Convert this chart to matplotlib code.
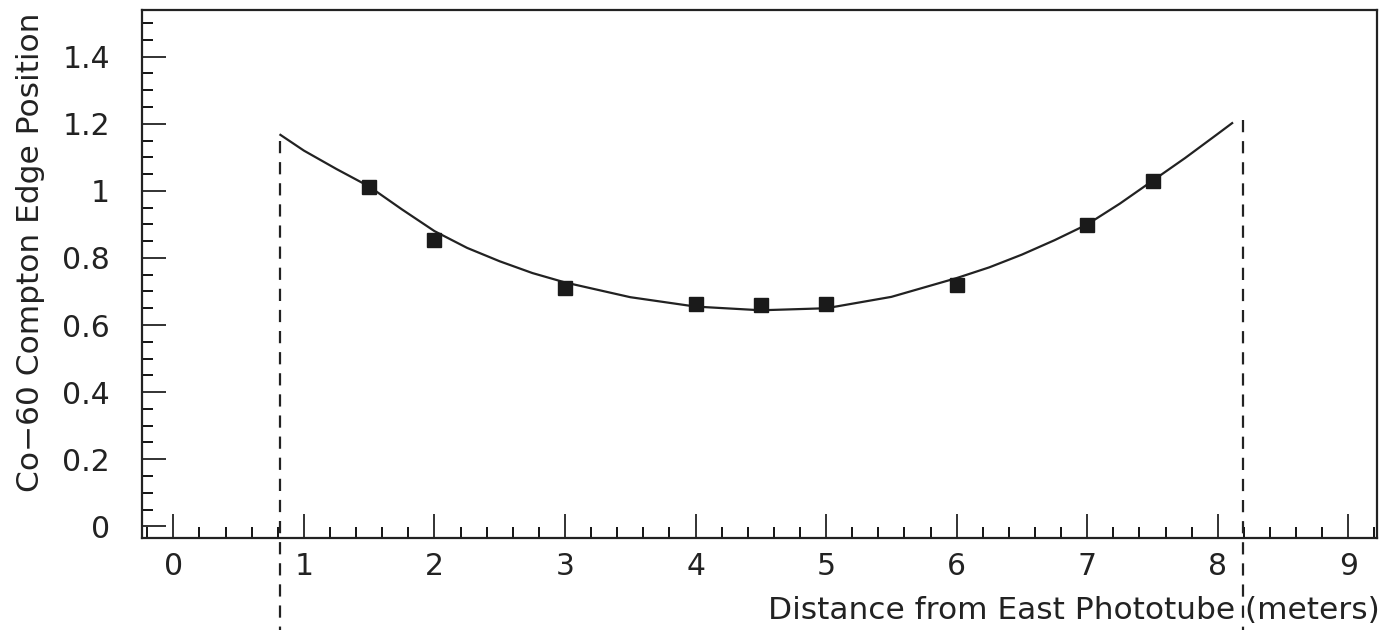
import numpy as np
import matplotlib
matplotlib.use("Agg")
import matplotlib.pyplot as plt
from matplotlib.ticker import MultipleLocator

# measured points
dist = [1.5, 2.0, 3.0, 4.0, 4.5, 5.0, 6.0, 7.0, 7.5]
edge = [1.013, 0.853, 0.709, 0.662, 0.659, 0.664, 0.72, 0.898, 1.028]

# fitted curve
fit_x = [0.82, 1.0, 1.25, 1.5, 1.75, 2.0, 2.25, 2.5, 2.75, 3.0, 3.5, 4.0, 4.5,
         5.0, 5.5, 6.0, 6.25, 6.5, 6.75, 7.0, 7.25, 7.5, 7.75, 8.0, 8.11]
fit_y = [1.167, 1.12, 1.065, 1.013, 0.945, 0.88, 0.83, 0.79, 0.755, 0.727, 0.683,
         0.655, 0.644, 0.65, 0.684, 0.74, 0.772, 0.81, 0.853, 0.90, 0.962, 1.03,
         1.098, 1.17, 1.202]

# dashed markers for the scintillator ends
end_x = [0.82, 8.19]
end_top = [1.15, 1.21]
end_bottom = [-0.33, -0.31]

xticks = list(range(10))
yticks = [0, 0.2, 0.4, 0.6, 0.8, 1.0, 1.2, 1.4]
ylabels = ["0", "0.2", "0.4", "0.6", "0.8", "1", "1.2", "1.4"]

fig = plt.figure(figsize=(13.83, 6.30), dpi=100)
ax = fig.add_axes([0.1027, 0.146, 0.893, 0.838])

ax.plot(fit_x, fit_y, color="#222222", lw=1.6)
ax.plot(dist, edge, "s", color="#1a1a1a", markersize=9.5)

for xe, yt, yb in zip(end_x, end_top, end_bottom):
    ax.plot([xe, xe], [yt, yb], color="#222222", lw=1.6,
            linestyle=(0, (5.5, 4)), clip_on=False)

ax.set_xlim(-0.24, 9.22)
ax.set_ylim(-0.035, 1.539)

ax.set_xticks(xticks)
ax.set_yticks(yticks)
ax.set_yticklabels(ylabels)
ax.xaxis.set_minor_locator(MultipleLocator(0.2))
ax.yaxis.set_minor_locator(MultipleLocator(0.05))

ax.tick_params(which="major", direction="in", length=17, width=1.3,
               labelsize=21.5, colors="#222222", top=False, right=False)
ax.tick_params(which="minor", direction="in", length=8, width=1.3,
               top=False, right=False)
ax.tick_params(axis="y", which="major", pad=23)
ax.tick_params(axis="x", which="major", pad=10)

for s in ax.spines.values():
    s.set_linewidth(1.6)
    s.set_color("#222222")

fig.text(0.998, 0.017, "Distance from East Phototube (meters)",
         ha="right", va="baseline", fontsize=22.5, color="#222222")
fig.text(0.022, 0.60, "Co\u221260 Compton Edge Position", rotation=90,
         ha="center", va="center", fontsize=22.5, color="#222222")

fig.savefig("out.png", dpi=100)
